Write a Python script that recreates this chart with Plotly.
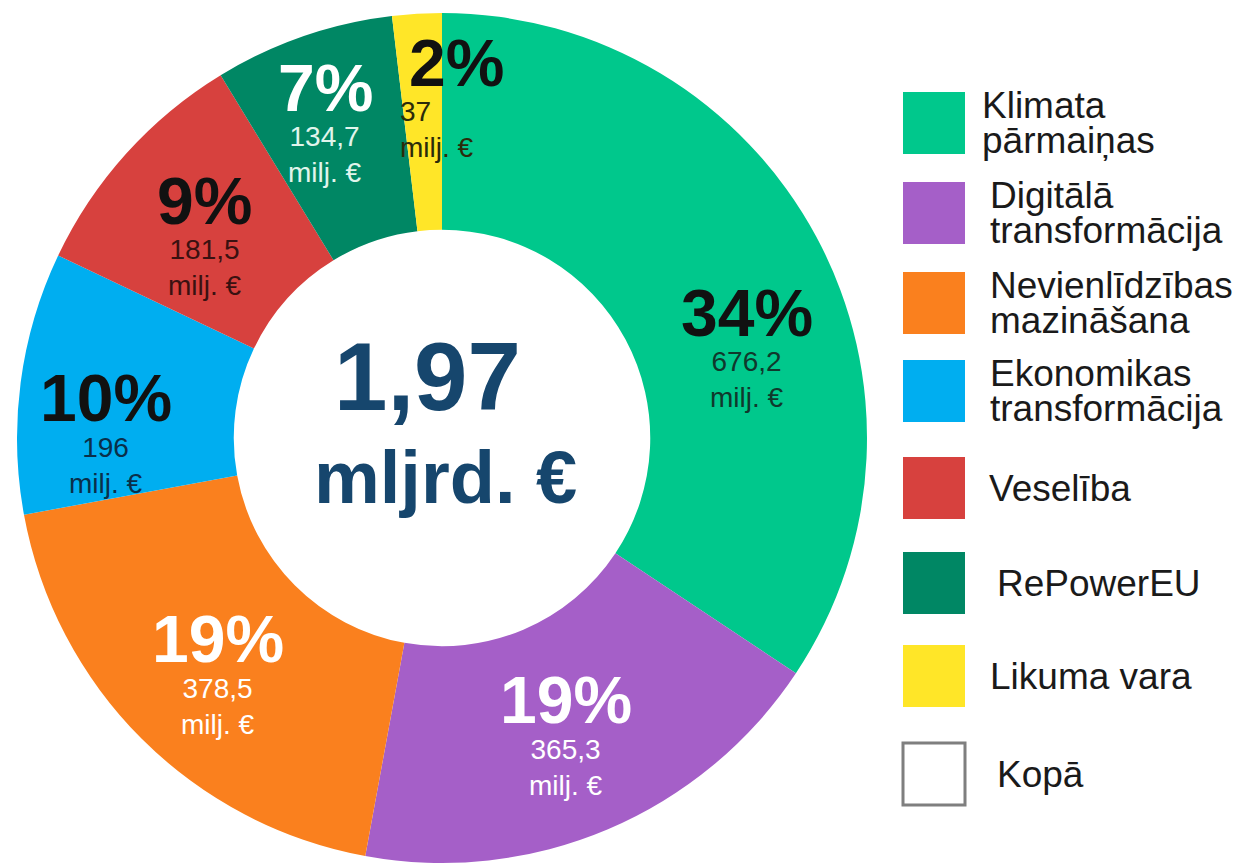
import math
import plotly.graph_objects as go

# ---------------- data ----------------
categories = [
    "Klimata<br>pārmaiņas",
    "Digitālā<br>transformācija",
    "Nevienlīdzības<br>mazināšana",
    "Ekonomikas<br>transformācija",
    "Veselība",
    "RePowerEU",
    "Likuma vara",
]
values_mln = [676.2, 365.3, 378.5, 196, 181.5, 134.7, 37]
total_label = "Kopā"
unit_small = "milj. €"
unit_big = "mljrd. €"

# ---------------- style ----------------
colors = ["#00C88C", "#A55FC8", "#FA801E", "#00AEF0", "#D7413E", "#008764", "#FFE628"]
pct_colors = ["#111111", "#FFFFFF", "#FFFFFF", "#111111", "#111111", "#FFFFFF", "#111111"]
val_colors = ["#10382C", "#FFFFFF", "#FFFFFF", "#0A2F4A", "#3A1111", "#E0F5EC", "#2B2B0A"]
label_dangle = [11, 0, -1, -6, -1, -1, 2.5]        # degrees offset from slice mid-angle
label_rfrac = [0.75, 0.75, 0.76, 0.79, 0.74, 0.80, 0.81]
pct_xshift = [0, 0, 0, 0, 0, 0, 20]
value_align = ["center"] * 6 + ["left"]
legend_tops = [92, 182, 272, 360, 457, 552, 645, 743]
legend_text_x = [980, 988, 988, 988, 987, 995, 988, 995]

W, H = 1241, 864
OFF = 8                      # page body margin of the browser
CX, CY, R = 442, 438, 425
HOLE = 0.49
FONT = "Liberation Sans, Arial, sans-serif"
CENTER_COLOR = "#16466D"


def px2paper(x, y):
    return (x - OFF) / W, 1 - (y - OFF) / H


dx0, dy1 = px2paper(CX - R, CY - R)
dx1, dy0 = px2paper(CX + R, CY + R)

fig = go.Figure(
    go.Pie(
        labels=categories,
        values=values_mln,
        marker=dict(colors=colors, line=dict(width=0)),
        hole=HOLE,
        sort=False,
        direction="clockwise",
        rotation=0,
        textinfo="none",
        hoverinfo="label+value",
        domain=dict(x=[dx0, dx1], y=[dy0, dy1]),
    )
)

annotations = []
shapes = []
total = sum(values_mln)
cum = 0.0
for i, v in enumerate(values_mln):
    mid = (cum + v / 2) / total * 360
    cum += v
    a = math.radians(mid + label_dangle[i])
    r = R * label_rfrac[i]
    px = CX + r * math.sin(a)
    py = CY - r * math.cos(a)
    xp, yp = px2paper(px, py)
    pct = round(v / total * 100)
    vtxt = f"{v:g}".replace(".", ",")
    annotations.append(dict(
        x=xp, y=yp, xref="paper", yref="paper", showarrow=False,
        text=f"<b>{pct}%</b>", font=dict(family=FONT, size=66, color=pct_colors[i]),
        xanchor="center", yanchor="middle", yshift=31, xshift=pct_xshift[i],
    ))
    annotations.append(dict(
        x=xp, y=yp, xref="paper", yref="paper", showarrow=False,
        text=f"{vtxt}<br>{unit_small}", font=dict(family=FONT, size=28, color=val_colors[i]),
        xanchor="center", yanchor="middle", yshift=-36, align=value_align[i],
    ))

# centre total
tx, ty = px2paper(CX - 15, CY - 61)
annotations.append(dict(
    x=tx, y=ty, xref="paper", yref="paper", showarrow=False,
    text=f"<b>{total / 1000:.2f}</b>".replace(".", ","),
    font=dict(family=FONT, size=96, color=CENTER_COLOR),
    xanchor="center", yanchor="middle",
))
tx, ty = px2paper(CX + 3, CY + 39)
annotations.append(dict(
    x=tx, y=ty, xref="paper", yref="paper", showarrow=False,
    text=f"<b>{unit_big}</b>",
    font=dict(family=FONT, size=74, color=CENTER_COLOR),
    xanchor="center", yanchor="middle",
))

# custom legend
legend_names = categories + [total_label]
legend_fill = colors + ["#FFFFFF"]
BOX = 62
for i, name in enumerate(legend_names):
    top = legend_tops[i]
    x0, y1 = px2paper(903, top)
    x1, y0 = px2paper(903 + BOX, top + BOX)
    is_total = i == len(legend_names) - 1
    shapes.append(dict(
        type="rect", xref="paper", yref="paper", x0=x0, x1=x1, y0=y0, y1=y1,
        fillcolor=legend_fill[i],
        line=dict(color="#7F7F7F" if is_total else legend_fill[i], width=3 if is_total else 0),
    ))
    lines = name.split("<br>")
    n = len(lines)
    for j, ln in enumerate(lines):
        cy_line = top + BOX / 2 + (j - (n - 1) / 2) * 35
        lx, ly = px2paper(legend_text_x[i], cy_line)
        annotations.append(dict(
            x=lx, y=ly, xref="paper", yref="paper", showarrow=False,
            text=ln, font=dict(family=FONT, size=37, color="#1A1A1A"),
            xanchor="left", yanchor="middle",
        ))

fig.update_layout(
    width=W, height=H,
    margin=dict(l=0, r=0, t=0, b=0),
    paper_bgcolor="white", plot_bgcolor="white",
    showlegend=False,
    annotations=annotations,
    shapes=shapes,
)

fig.write_html("out.html")
